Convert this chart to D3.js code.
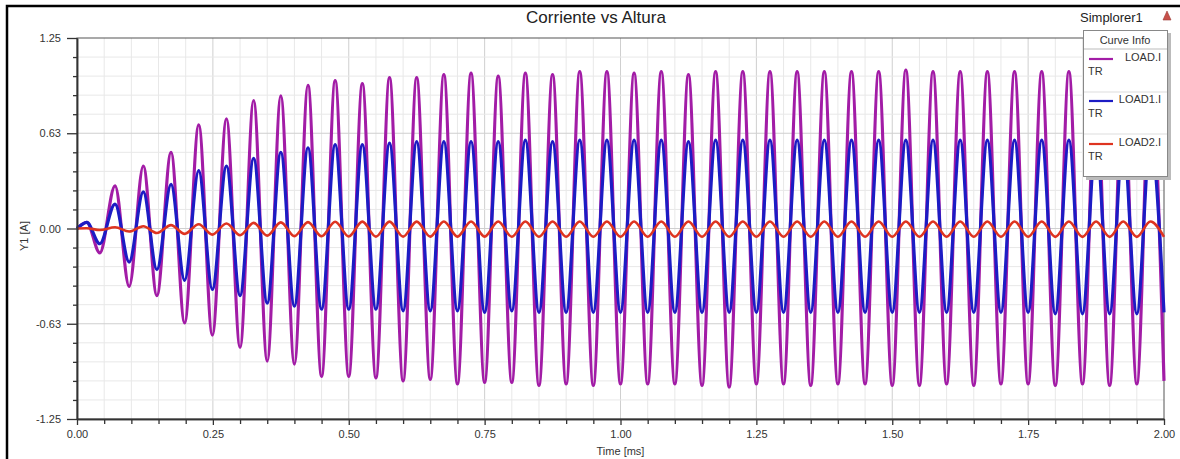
<!DOCTYPE html>
<meta charset="utf-8">
<head>
<style>
    body {margin: 0; background: #fff; font-family: "Liberation Sans", Arial, sans-serif;}
</style>
<script src="https://d3js.org/d3.v7.min.js"></script>
</head>
<body>
    <div id="chart"></div>
</body>
<script>

// times (ms) of each extreme of the waveforms
var times = [0, 0.018, 0.042, 0.070, 0.096, 0.122, 0.147, 0.173, 0.198, 0.224, 0.249, 0.275,
    0.300, 0.325, 0.350, 0.375, 0.400, 0.425, 0.450, 0.475, 0.500, 0.525, 0.550, 0.575,
    0.600, 0.625, 0.650, 0.675, 0.700, 0.725, 0.750, 0.775, 0.800, 0.825, 0.850, 0.875,
    0.900, 0.925, 0.950, 0.975, 1.000, 1.025, 1.050, 1.075, 1.100, 1.125, 1.150, 1.175,
    1.200, 1.225, 1.250, 1.275, 1.300, 1.325, 1.350, 1.375, 1.400, 1.425, 1.450, 1.475,
    1.500, 1.525, 1.550, 1.575, 1.600, 1.625, 1.650, 1.675, 1.700, 1.725, 1.750, 1.775,
    1.800, 1.825, 1.850, 1.875, 1.900, 1.925, 1.950, 1.975, 2.000];

var loadI = [0, 0.04, -0.16, 0.28, -0.38, 0.41, -0.44, 0.50, -0.62, 0.68, -0.70, 0.72,
    -0.78, 0.84, -0.87, 0.87, -0.89, 0.94, -0.97, 0.97, -0.97, 0.95, -0.98, 0.99,
    -1.00, 0.99, -0.99, 1.01, -1.02, 1.02, -1.01, 1.00, -1.01, 1.02, -1.03, 1.01,
    -1.02, 1.03, -1.03, 1.03, -1.02, 1.02, -1.02, 1.03, -1.02, 1.01, -1.03, 1.03,
    -1.04, 1.03, -1.02, 1.03, -1.02, 1.03, -1.03, 1.03, -1.02, 1.03, -1.02, 1.03,
    -1.03, 1.04, -1.03, 1.03, -1.02, 1.03, -1.03, 1.03, -1.02, 1.03, -1.02, 1.03,
    -1.03, 1.03, -1.02, 1.03, -1.03, 1.03, -1.02, 1.03, -1.00];

var load1I = [0, 0.04, -0.10, 0.16, -0.22, 0.24, -0.27, 0.29, -0.34, 0.38, -0.40, 0.41,
    -0.44, 0.46, -0.49, 0.50, -0.51, 0.53, -0.53, 0.55, -0.53, 0.55, -0.53, 0.56,
    -0.54, 0.57, -0.54, 0.57, -0.54, 0.57, -0.55, 0.57, -0.54, 0.58, -0.55, 0.57,
    -0.55, 0.58, -0.55, 0.58, -0.55, 0.58, -0.55, 0.58, -0.55, 0.57, -0.55, 0.58,
    -0.55, 0.58, -0.55, 0.58, -0.55, 0.58, -0.55, 0.58, -0.55, 0.58, -0.55, 0.58,
    -0.55, 0.58, -0.55, 0.58, -0.55, 0.58, -0.55, 0.58, -0.55, 0.58, -0.55, 0.58,
    -0.56, 0.58, -0.56, 0.58, -0.56, 0.58, -0.56, 0.58, -0.55];

var load2I = [0, 0.002, -0.010, 0.008, -0.020, 0.015, -0.030, 0.022, -0.035, 0.028, -0.040, 0.033,
    -0.044, 0.037, -0.047, 0.040, -0.050, 0.042, -0.051, 0.044, -0.052, 0.045, -0.053, 0.045,
    -0.053, 0.045, -0.053, 0.046, -0.053, 0.046, -0.053, 0.046, -0.054, 0.046, -0.054, 0.046,
    -0.054, 0.046, -0.054, 0.046, -0.054, 0.046, -0.054, 0.046, -0.054, 0.046, -0.054, 0.046,
    -0.054, 0.046, -0.054, 0.046, -0.054, 0.046, -0.054, 0.046, -0.054, 0.046, -0.054, 0.046,
    -0.054, 0.046, -0.054, 0.046, -0.054, 0.046, -0.054, 0.046, -0.054, 0.046, -0.054, 0.046,
    -0.055, 0.046, -0.055, 0.046, -0.055, 0.046, -0.055, 0.046, -0.055];

var seriesNames = ["LOAD.I", "LOAD1.I", "LOAD2.I"];
var seriesColors = ["#a21ca6", "#1c1cc4", "#de3420"];

var xTicksMinor = [0.05, 0.10, 0.15, 0.20, 0.30, 0.35, 0.40, 0.45, 0.55, 0.60, 0.65, 0.70,
    0.80, 0.85, 0.90, 0.95, 1.05, 1.10, 1.15, 1.20, 1.30, 1.35, 1.40, 1.45,
    1.55, 1.60, 1.65, 1.70, 1.80, 1.85, 1.90, 1.95];
var xTicksMajor = [0, 0.25, 0.5, 0.75, 1.0, 1.25, 1.5, 1.75, 2.0];
var xTickLabels = ["0.00", "0.25", "0.50", "0.75", "1.00", "1.25", "1.50", "1.75", "2.00"];

var yTicksMinor = [1.125, 1.0, 0.875, 0.75, 0.5, 0.375, 0.25, 0.125,
    -0.125, -0.25, -0.375, -0.5, -0.75, -0.875, -1.0, -1.125];
var yTicksMajor = [1.25, 0.625, 0, -0.625, -1.25];
var yTickLabels = ["1.25", "0.63", "0.00", "-0.63", "-1.25"];

function run() {
    var width = 1180, height = 459;
    var left = 77, right = 1164, top = 38, bottom = 419;
    var textColor = "#333";

    var svg = d3.select("#chart").append("svg")
        .attr("width", width)
        .attr("height", height);

    svg.append("rect")
        .attr("x", 7).attr("y", 6)
        .attr("width", 1300).attr("height", 600)
        .style("fill", "#fff")
        .style("stroke", "#000")
        .style("stroke-width", 2.5);

    var x = d3.scaleLinear().domain([0, 2]).range([left, right]);
    var y = d3.scaleLinear().domain([-1.25, 1.25]).range([bottom, top]);

    // grid
    var grid = svg.append("g");
    grid.selectAll("line.vx")
        .data(xTicksMinor.concat(xTicksMajor.slice(1, -1)))
        .enter().append("line")
        .attr("x1", function(d) { return x(d); })
        .attr("x2", function(d) { return x(d); })
        .attr("y1", top).attr("y2", bottom)
        .style("stroke", function(d) { return xTicksMajor.indexOf(d) >= 0 ? "#cfcfcf" : "#e8e8e8"; })
        .style("stroke-width", 1);
    grid.selectAll("line.hy")
        .data(yTicksMinor.concat(yTicksMajor.slice(1, -1)))
        .enter().append("line")
        .attr("y1", function(d) { return y(d); })
        .attr("y2", function(d) { return y(d); })
        .attr("x1", left).attr("x2", right)
        .style("stroke", function(d) { return yTicksMajor.indexOf(d) >= 0 ? "#cfcfcf" : "#e8e8e8"; })
        .style("stroke-width", 1);

    svg.append("rect")
        .attr("x", left).attr("y", top)
        .attr("width", right - left).attr("height", bottom - top)
        .style("fill", "none")
        .style("stroke", "#555")
        .style("stroke-width", 1);

    // curves
    var plot = svg.append("g");
    [loadI, load1I, load2I].forEach(function(vals, i) {
        var pts = times.map(function(t, j) { return [t, vals[j]]; });
        var line = d3.line()
            .x(function(d) { return x(d[0]); })
            .y(function(d) { return y(d[1]); })
            .curve(d3.curveMonotoneX);
        plot.append("path")
            .datum(pts)
            .attr("d", line)
            .style("fill", "none")
            .style("stroke", seriesColors[i])
            .style("stroke-width", i == 2 ? 2.6 : 3.2)
            .style("stroke-linejoin", "round");
    });

    // axes
    function styleAxis(g) {
        g.select(".domain").style("stroke", "#333").style("stroke-width", 1.5);
        g.selectAll(".tick line").style("stroke", "#333").style("stroke-width", 1.3);
        g.selectAll("text")
            .style("font-family", "Liberation Sans, Arial, sans-serif")
            .style("font-size", "11px")
            .style("fill", textColor);
    }

    svg.append("g")
        .attr("transform", "translate(" + left + ",0)")
        .call(d3.axisLeft(y).tickValues(yTicksMinor).tickSize(4).tickSizeOuter(0).tickFormat(""))
        .call(styleAxis);
    svg.append("g")
        .attr("transform", "translate(" + left + ",0)")
        .call(d3.axisLeft(y).tickValues(yTicksMajor).tickSize(10).tickPadding(6).tickSizeOuter(0)
            .tickFormat(function(d, i) { return yTickLabels[i]; }))
        .call(styleAxis);

    svg.append("g")
        .attr("transform", "translate(0," + bottom + ")")
        .call(d3.axisBottom(x).tickValues(xTicksMinor).tickSize(5).tickSizeOuter(0).tickFormat(""))
        .call(styleAxis);
    svg.append("g")
        .attr("transform", "translate(0," + bottom + ")")
        .call(d3.axisBottom(x).tickValues(xTicksMajor).tickSize(6).tickPadding(5).tickSizeOuter(0)
            .tickFormat(function(d, i) { return xTickLabels[i]; }))
        .call(styleAxis);

    svg.append("text")
        .attr("x", (left + right) / 2).attr("y", 455)
        .style("text-anchor", "middle")
        .style("font-size", "11px")
        .style("fill", textColor)
        .text("Time [ms]");

    svg.append("text")
        .attr("transform", "translate(28,236) rotate(-90)")
        .style("text-anchor", "middle")
        .style("font-size", "11px")
        .style("fill", textColor)
        .text("Y1 [A]");

    svg.append("text")
        .attr("x", 596).attr("y", 23)
        .style("text-anchor", "middle")
        .style("font-size", "17px")
        .style("fill", "#222")
        .text("Corriente vs Altura");

    svg.append("text")
        .attr("x", 1080).attr("y", 22)
        .style("font-size", "13px")
        .style("fill", "#222")
        .text("Simplorer1");

    svg.append("path")
        .attr("d", "M1163,20 L1171,20 L1167,11 Z")
        .style("fill", "#c8504a")
        .style("stroke", "#9a3a36")
        .style("stroke-width", 0.6);

    // legend
    var lg = svg.append("g");
    lg.append("rect")
        .attr("x", 1086).attr("y", 33).attr("width", 85).attr("height", 147)
        .style("fill", "#bbb");
    lg.append("rect")
        .attr("x", 1083.5).attr("y", 30.5).attr("width", 84).attr("height", 146)
        .style("fill", "#fff")
        .style("stroke", "#888")
        .style("stroke-width", 1);
    lg.append("text")
        .attr("x", 1125).attr("y", 44)
        .style("text-anchor", "middle")
        .style("font-size", "11px")
        .style("fill", textColor)
        .text("Curve Info");
    lg.append("line")
        .attr("x1", 1084).attr("x2", 1167).attr("y1", 49).attr("y2", 49)
        .style("stroke", "#bbb");

    var rowY = [58, 100, 143];
    seriesNames.forEach(function(name, i) {
        var ry = rowY[i];
        lg.append("line")
            .attr("x1", 1089).attr("x2", 1113).attr("y1", ry + 1).attr("y2", ry + 1)
            .style("stroke", seriesColors[i])
            .style("stroke-width", 2.2);
        lg.append("text")
            .attr("x", 1161).attr("y", ry + 3)
            .style("text-anchor", "end")
            .style("font-size", "11px")
            .style("fill", textColor)
            .text(name);
        lg.append("text")
            .attr("x", 1088).attr("y", ry + 17)
            .style("font-size", "11px")
            .style("fill", textColor)
            .text("TR");
        if (i < 2) {
            lg.append("line")
                .attr("x1", 1084).attr("x2", 1167)
                .attr("y1", ry + 34).attr("y2", ry + 34)
                .style("stroke", "#ddd");
        }
    });
}

run();

</script>
